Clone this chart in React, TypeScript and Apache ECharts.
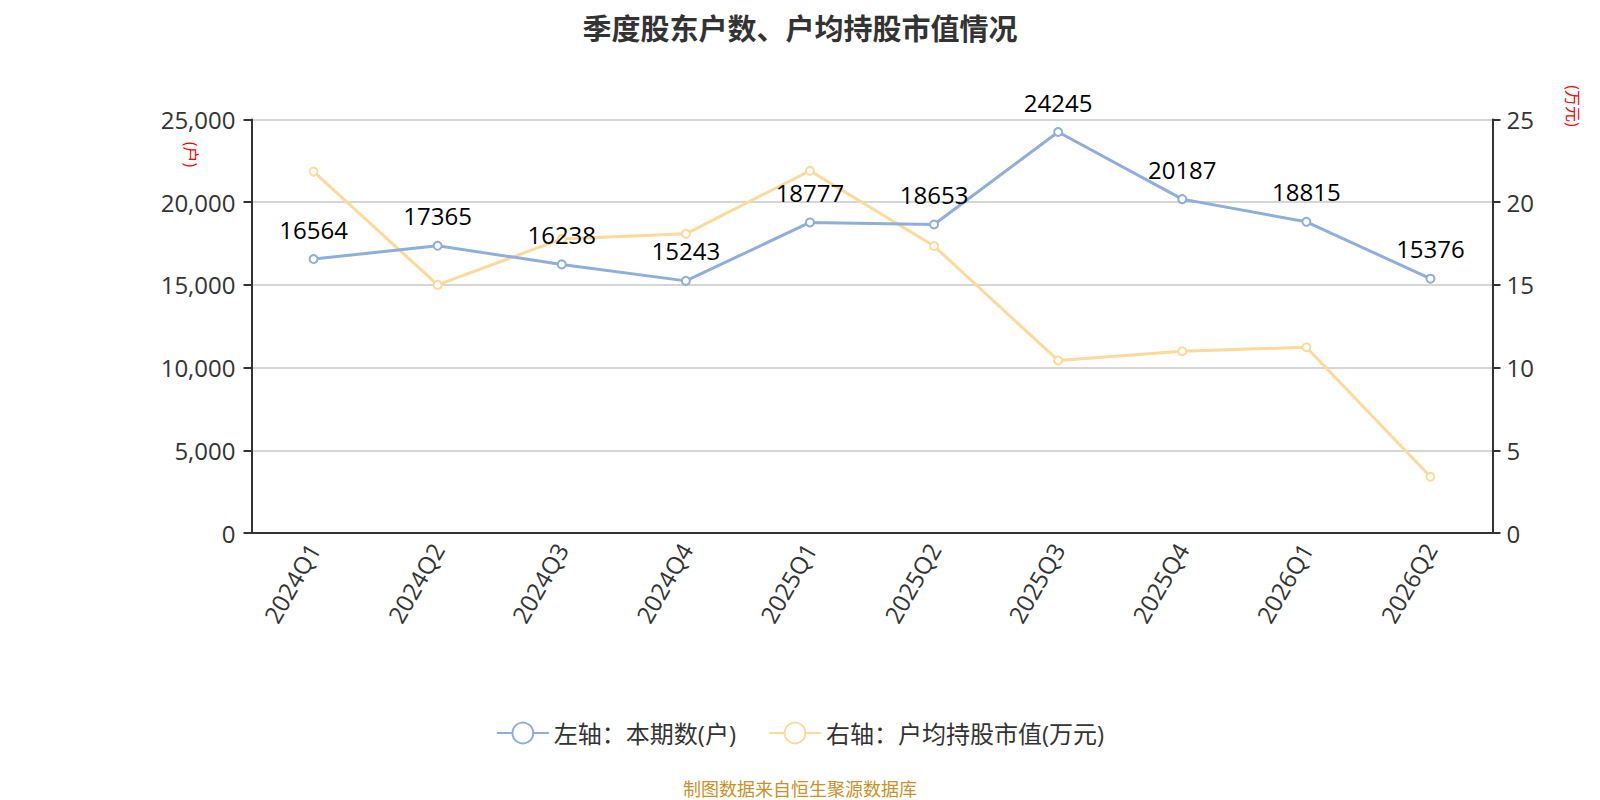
import React, { useEffect, useRef } from "react";
import * as echarts from "echarts";

const categories = ["2024Q1", "2024Q2", "2024Q3", "2024Q4", "2025Q1", "2025Q2", "2025Q3", "2025Q4", "2026Q1", "2026Q2"];
const holders = [16564, 17365, 16238, 15243, 18777, 18653, 24245, 20187, 18815, 15376];
const avgValue = [21.85, 15.0, 17.78, 18.09, 21.9, 17.35, 10.43, 10.99, 11.23, 3.4];
const leftTicks = { min: 0, max: 25000, interval: 5000 };
const rightTicks = { min: 0, max: 25, interval: 5 };

const FONT = "'Open Sans', 'Noto Sans CJK SC', sans-serif";

export default function App() {
  const ref = useRef<HTMLDivElement>(null);
  useEffect(() => {
    const chart = echarts.init(ref.current!, null, { renderer: "svg" });
    chart.setOption({
      animation: false,
      textStyle: { fontFamily: FONT },
      title: {
        text: "季度股东户数、户均持股市值情况",
        left: "center",
        top: 4,
        padding: 0,
        textStyle: { fontSize: 29, fontWeight: "bold", color: "#333", fontFamily: FONT, lineHeight: 32 },
      },
      legend: {
        top: 708,
        left: "center",
        itemWidth: 52,
        itemHeight: 26,
        itemGap: 32,
        textStyle: { fontSize: 24, color: "#333", fontFamily: FONT },
        data: ["左轴：本期数(户)", "右轴：户均持股市值(万元)"],
      },
      graphic: [
        {
          type: "text",
          left: "center",
          top: 772,
          style: { text: "制图数据来自恒生聚源数据库", fontSize: 18, fill: "#c8922a", fontFamily: FONT },
        },
        {
          type: "text",
          x: 183,
          y: 146.5,
          rotation: -Math.PI / 2,
          style: { text: "(户)", fontSize: 16, fill: "#ff0000", align: "center", verticalAlign: "middle", fontFamily: FONT },
        },
        {
          type: "text",
          x: 1565,
          y: 98,
          rotation: -Math.PI / 2,
          style: { text: "(万元)", fontSize: 16, fill: "#ff0000", align: "center", verticalAlign: "middle", fontFamily: FONT },
        },
      ],
      grid: { left: 243.5, right: 99.5, top: 111.5, bottom: 275 },
      xAxis: {
        type: "category",
        data: categories,
        boundaryGap: true,
        axisLine: { lineStyle: { color: "#333", width: 2 } },
        axisTick: { length: 8, lineStyle: { width: 2 } },
        axisLabel: { rotate: 60, fontSize: 24, color: "#333", margin: 12, fontFamily: FONT },
      },
      yAxis: [
        {
          type: "value",
          ...leftTicks,
          axisLine: { show: true, lineStyle: { color: "#333", width: 2 } },
          axisTick: { show: true, length: 8, lineStyle: { width: 2 } },
          axisLabel: { fontSize: 24, color: "#333", margin: 16, fontFamily: FONT },
          splitLine: { lineStyle: { color: "#c8c8c8", width: 1.5 } },
        },
        {
          type: "value",
          ...rightTicks,
          axisLine: { show: true, lineStyle: { color: "#333", width: 2 } },
          axisTick: { show: true, length: 8, lineStyle: { width: 2 } },
          axisLabel: { fontSize: 24, color: "#333", margin: 14, fontFamily: FONT },
          splitLine: { show: false },
        },
      ],
      series: [
        {
          name: "左轴：本期数(户)",
          type: "line",
          yAxisIndex: 0,
          data: holders,
          symbol: "emptyCircle",
          symbolSize: 8,
          lineStyle: { color: "#8eaedd", width: 3 },
          itemStyle: { color: "#8eaedd", borderWidth: 2 },
          label: { show: true, position: "top", fontSize: 24, color: "#000", distance: 13, fontFamily: FONT },
          z: 3,
        },
        {
          name: "右轴：户均持股市值(万元)",
          type: "line",
          yAxisIndex: 1,
          data: avgValue,
          symbol: "emptyCircle",
          symbolSize: 8,
          lineStyle: { color: "#fdd99a", width: 3 },
          itemStyle: { color: "#fdd99a", borderWidth: 2 },
          label: { show: false },
          z: 2,
        },
      ],
    });
    return () => chart.dispose();
  }, []);
  return <div ref={ref} style={{ width: 1584, height: 800 }} />;
}
